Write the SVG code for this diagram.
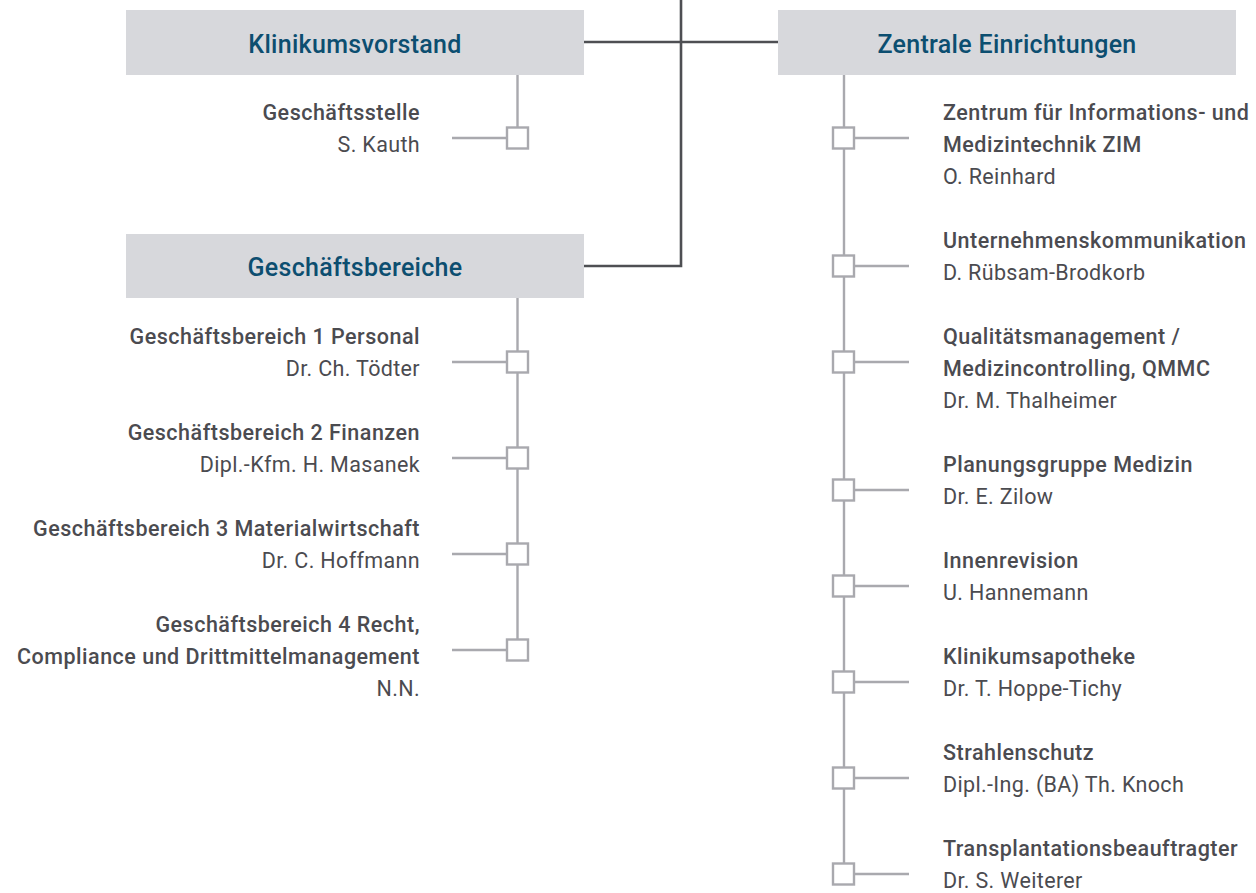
<svg xmlns="http://www.w3.org/2000/svg" width="1256" height="893" viewBox="0 0 1256 893">
<style>
.box{fill:#d7d8dc}
.hd{font-family:Roboto,"Liberation Sans",sans-serif;font-size:25px;font-weight:500;letter-spacing:0.3px;fill:#0c4e70;text-anchor:middle}
.t{font-family:Roboto,"Liberation Sans",sans-serif;font-size:21.5px;font-weight:500;letter-spacing:0.5px;fill:#4b4b50}
.n{font-family:Roboto,"Liberation Sans",sans-serif;font-size:21.5px;font-weight:400;letter-spacing:0.35px;fill:#4b4b50}
.l{text-anchor:end}
.dk{stroke:#4e4f53;stroke-width:2.6;fill:none}
.gr{stroke:#a9a9ae;stroke-width:2.4;fill:none}
.sq{stroke:#a9a9ae;stroke-width:2.4;fill:#fff}
</style>
<rect width="1256" height="893" fill="#fff"/>
<g id="connectors">
<path class="dk" d="M681 0V267.3M584 42H778M584 266H682.3"/>
<path class="gr" d="M517.5 75V127M517.5 298V639M844 75V863"/>
<path class="gr" d="M452 138H507M452 362H507M452 458H507M452 554H507M452 650H507"/>
<path class="gr" d="M855 138H909M855 266H909M855 362H909M855 490H909M855 586H909M855 682H909M855 778H909M855 874H909"/>
</g>
<g id="klinikumsvorstand"><rect class="box" x="126" y="10" width="458" height="65"/><text class="hd" x="355" y="52.5">Klinikumsvorstand</text></g>
<g id="geschaeftsbereiche"><rect class="box" x="126" y="234" width="458" height="64"/><text class="hd" x="355" y="276">Geschäftsbereiche</text></g>
<g id="zentrale-einrichtungen"><rect class="box" x="778" y="10" width="458" height="65"/><text class="hd" x="1007" y="52.5">Zentrale Einrichtungen</text></g>

<g id="geschaeftsstelle"><rect class="sq" x="507" y="127.5" width="21" height="21"/><text class="t l" x="420" y="120">Geschäftsstelle</text><text class="n l" x="420" y="152">S. Kauth</text></g>
<g id="gb1"><rect class="sq" x="507" y="351.5" width="21" height="21"/><text class="t l" x="420" y="344">Geschäftsbereich 1 Personal</text><text class="n l" x="420" y="376">Dr. Ch. Tödter</text></g>
<g id="gb2"><rect class="sq" x="507" y="447.5" width="21" height="21"/><text class="t l" x="420" y="440">Geschäftsbereich 2 Finanzen</text><text class="n l" x="420" y="472">Dipl.-Kfm. H. Masanek</text></g>
<g id="gb3"><rect class="sq" x="507" y="543.5" width="21" height="21"/><text class="t l" x="420" y="536">Geschäftsbereich 3 Materialwirtschaft</text><text class="n l" x="420" y="568">Dr. C. Hoffmann</text></g>
<g id="gb4"><rect class="sq" x="507" y="639.5" width="21" height="21"/><text class="t l" x="420" y="632">Geschäftsbereich 4 Recht,</text><text class="t l" x="420" y="664">Compliance und Drittmittelmanagement</text><text class="n l" x="420" y="696">N.N.</text></g>

<g id="zim"><rect class="sq" x="833" y="127.5" width="21" height="21"/><text class="t" x="943" y="120">Zentrum für Informations- und</text><text class="t" x="943" y="152">Medizintechnik ZIM</text><text class="n" x="943" y="184">O. Reinhard</text></g>
<g id="uk"><rect class="sq" x="833" y="255.5" width="21" height="21"/><text class="t" x="943" y="248">Unternehmenskommunikation</text><text class="n" x="943" y="280">D. Rübsam-Brodkorb</text></g>
<g id="qmmc"><rect class="sq" x="833" y="351.5" width="21" height="21"/><text class="t" x="943" y="344">Qualitätsmanagement /</text><text class="t" x="943" y="376">Medizincontrolling, QMMC</text><text class="n" x="943" y="408">Dr. M. Thalheimer</text></g>
<g id="pgm"><rect class="sq" x="833" y="479.5" width="21" height="21"/><text class="t" x="943" y="472">Planungsgruppe Medizin</text><text class="n" x="943" y="504">Dr. E. Zilow</text></g>
<g id="ir"><rect class="sq" x="833" y="575.5" width="21" height="21"/><text class="t" x="943" y="568">Innenrevision</text><text class="n" x="943" y="600">U. Hannemann</text></g>
<g id="apo"><rect class="sq" x="833" y="671.5" width="21" height="21"/><text class="t" x="943" y="664">Klinikumsapotheke</text><text class="n" x="943" y="696">Dr. T. Hoppe-Tichy</text></g>
<g id="ss"><rect class="sq" x="833" y="767.5" width="21" height="21"/><text class="t" x="943" y="760">Strahlenschutz</text><text class="n" x="943" y="792">Dipl.-Ing. (BA) Th. Knoch</text></g>
<g id="tx"><rect class="sq" x="833" y="863.5" width="21" height="21"/><text class="t" x="943" y="856">Transplantationsbeauftragter</text><text class="n" x="943" y="888">Dr. S. Weiterer</text></g>
</svg>
